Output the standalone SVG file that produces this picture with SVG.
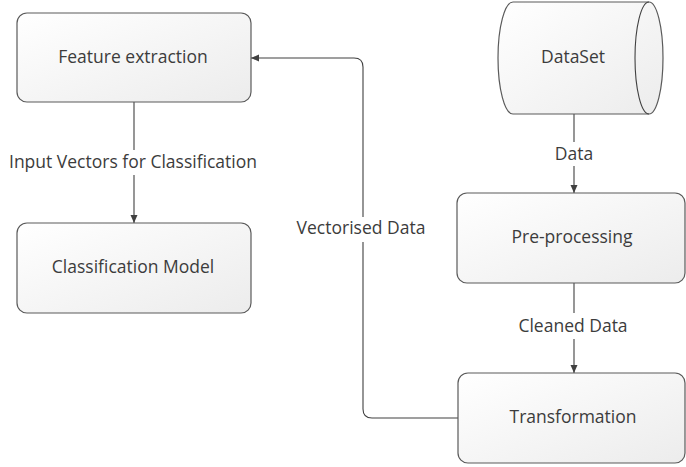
<svg xmlns="http://www.w3.org/2000/svg" width="686" height="467" viewBox="0 0 686 467">
  <defs>
    <linearGradient id="boxFill" x1="0" y1="0" x2="1" y2="1">
      <stop offset="0" stop-color="#ffffff"/>
      <stop offset="1" stop-color="#ececec"/>
    </linearGradient>
    <marker id="arrow" viewBox="0 0 8 8" refX="8" refY="4" markerWidth="8" markerHeight="8" markerUnits="userSpaceOnUse" orient="auto">
      <path d="M0,0.5 L8,4 L0,7.5 Z" fill="#404040"/>
    </marker>
  </defs>
  <style>
    .box { fill: url(#boxFill); stroke: #5a5a5a; stroke-width: 1.2; }
    .label { font-family: "Open Sans", "Noto Sans", "Liberation Sans", sans-serif; font-size: 17.5px; fill: #3c3c3c; text-anchor: middle; }
    .edge { fill: none; stroke: #404040; stroke-width: 1.1; }
  </style>
  <rect width="686" height="467" fill="#ffffff"/>

  <g id="connectors">
    <!-- Feature extraction -> Classification Model -->
    <path class="edge" d="M134,102 V150"/>
    <path class="edge" d="M134,175 V223" marker-end="url(#arrow)"/>
    <text class="label" x="133" y="168">Input Vectors for Classification</text>

    <!-- DataSet -> Pre-processing -->
    <path class="edge" d="M574,114 V142"/>
    <path class="edge" d="M574,166 V193" marker-end="url(#arrow)"/>
    <text class="label" x="574" y="160">Data</text>

    <!-- Pre-processing -> Transformation -->
    <path class="edge" d="M574,283 V313"/>
    <path class="edge" d="M574,339 V373" marker-end="url(#arrow)"/>
    <text class="label" x="573" y="332">Cleaned Data</text>

    <!-- Transformation -> Feature extraction -->
    <path class="edge" d="M458,418 H372 Q363,418 363,409 V242"/>
    <path class="edge" d="M363,217 V67 Q363,58 354,58 H251" marker-end="url(#arrow)"/>
    <text class="label" x="361" y="234">Vectorised Data</text>
  </g>

  <g id="feature-extraction">
    <rect class="box" x="17" y="13" width="234" height="89" rx="10"/>
    <text class="label" x="133" y="63">Feature extraction</text>
  </g>

  <g id="classification-model">
    <rect class="box" x="17" y="223" width="234" height="90" rx="10"/>
    <text class="label" x="133" y="273">Classification Model</text>
  </g>

  <g id="dataset">
    <path class="box" d="M513,2 H649 A14,56 0 0 1 649,114 H513 A15,56 0 0 1 513,2 Z"/>
    <path class="edge" stroke="#5a5a5a" d="M649,2 A14,56 0 0 0 649,114"/>
    <text class="label" x="573" y="63">DataSet</text>
  </g>

  <g id="pre-processing">
    <rect class="box" x="457" y="193" width="228" height="90" rx="10"/>
    <text class="label" x="572" y="243">Pre-processing</text>
  </g>

  <g id="transformation">
    <rect class="box" x="458" y="373" width="227" height="90" rx="10"/>
    <text class="label" x="573" y="423">Transformation</text>
  </g>
</svg>
